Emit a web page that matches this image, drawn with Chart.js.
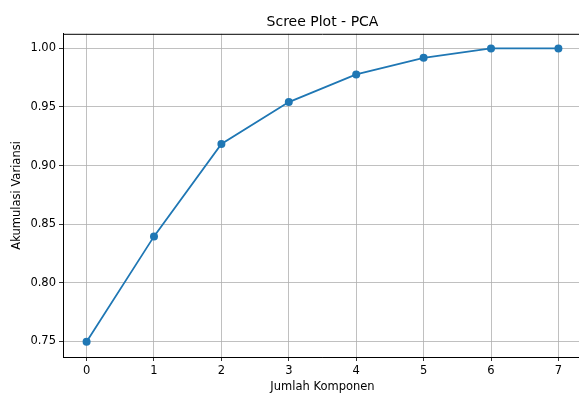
<!DOCTYPE html>
<html>
<head>
<meta charset="utf-8">
<script src="https://cdn.jsdelivr.net/npm/chart.js@4/dist/chart.umd.min.js"></script>
<style>
  html, body { margin: 0; padding: 0; background: #fff; overflow: hidden; }
  #wrap { width: 600px; height: 394px; }
</style>
</head>
<body>
<div id="wrap"><canvas id="scree" width="600" height="394"></canvas></div>
<script>
// data
var komponen = [0, 1, 2, 3, 4, 5, 6, 7];
var variansi = [0.7495, 0.8395, 0.9185, 0.9542, 0.9778, 0.9920, 1.0000, 1.0000];
var xTicks = [0, 1, 2, 3, 4, 5, 6, 7];
var yTicks = [0.75, 0.80, 0.85, 0.90, 0.95, 1.00];

var fontFam = "'DejaVu Sans', sans-serif";

// top spine like matplotlib
var topSpine = {
    id: 'topSpine',
    afterDraw: function (chart) {
        var a = chart.chartArea, c = chart.ctx;
        c.save();
        c.strokeStyle = '#000';
        c.lineWidth = 1;
        c.beginPath();
        c.moveTo(a.left, a.top + 0.5);
        c.lineTo(a.right, a.top + 0.5);
        c.stroke();
        c.restore();
    }
};

var points = komponen.map(function (k, i) { return { x: k, y: variansi[i] }; });

new Chart(document.getElementById('scree'), {
    type: 'line',
    data: {
        datasets: [{
            data: points,
            borderColor: '#1f77b4',
            backgroundColor: '#1f77b4',
            borderWidth: 1.8,
            pointRadius: 4,
            pointBorderWidth: 0,
            fill: false,
            tension: 0
        }]
    },
    options: {
        responsive: false,
        animation: false,
        devicePixelRatio: 1,
        layout: { padding: { left: 0, right: 18, top: 0, bottom: 0 } },
        plugins: {
            legend: { display: false },
            tooltip: { enabled: false },
            title: {
                display: true,
                text: 'Scree Plot - PCA',
                fullSize: false,
                color: '#000',
                font: { family: fontFam, size: 14, weight: 'normal' },
                padding: { top: 14, bottom: 3 }
            }
        },
        scales: {
            x: {
                type: 'linear',
                min: -0.35,
                max: 7.35,
                afterFit: function (s) { s.height = 37; },
                afterBuildTicks: function (s) { s.ticks = xTicks.map(function (v) { return { value: v }; }); },
                ticks: {
                    color: '#000',
                    padding: 3,
                    maxRotation: 0,
                    font: { family: fontFam, size: 11.5 },
                    callback: function (v) { return String(v); }
                },
                grid: { color: '#b0b0b0', lineWidth: 0.8, tickColor: '#000', tickLength: 4 },
                border: { color: '#000', width: 1 },
                title: {
                    display: true,
                    text: 'Jumlah Komponen',
                    color: '#000',
                    font: { family: fontFam, size: 11.5 },
                    padding: { top: 0, bottom: 0 }
                }
            },
            y: {
                min: 0.7365,
                max: 1.0125,
                afterFit: function (s) { s.width = 63; },
                afterBuildTicks: function (s) { s.ticks = yTicks.map(function (v) { return { value: v }; }); },
                ticks: {
                    color: '#000',
                    padding: 3,
                    font: { family: fontFam, size: 11.5 },
                    callback: function (v) { return Number(v).toFixed(2); }
                },
                grid: { color: '#b0b0b0', lineWidth: 0.8, tickColor: '#000', tickLength: 4 },
                border: { color: '#000', width: 1 },
                title: {
                    display: true,
                    text: 'Akumulasi Variansi',
                    color: '#000',
                    font: { family: fontFam, size: 11.5 },
                    padding: { top: 10, bottom: 0 }
                }
            }
        }
    },
    plugins: [topSpine]
});
</script>
</body>
</html>
